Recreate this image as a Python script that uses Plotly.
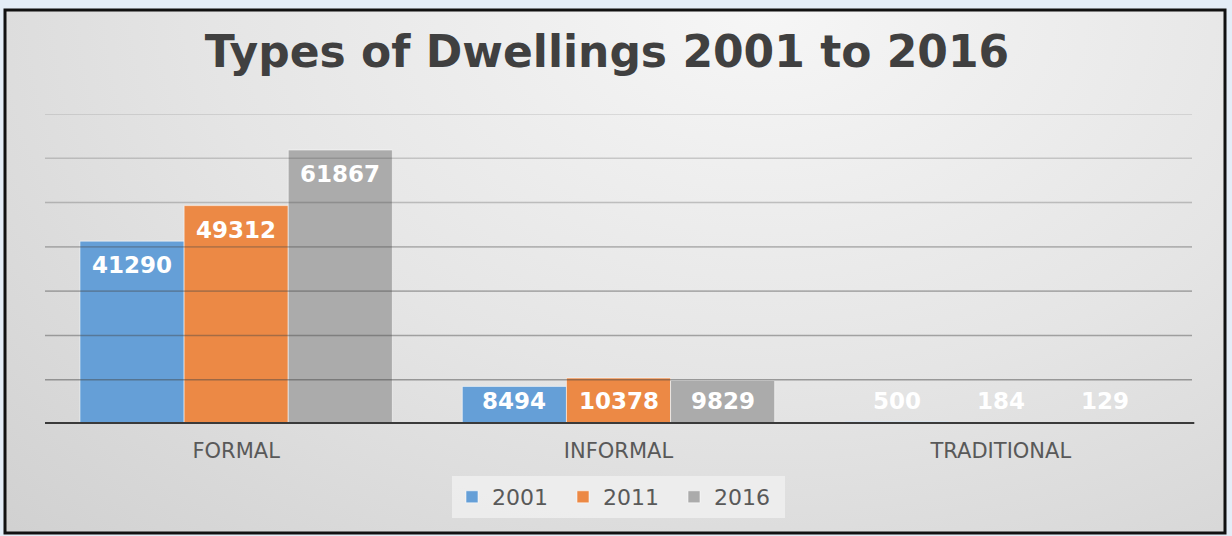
import base64
import plotly.graph_objects as go

# Dwelling counts by type and census year
categories = ["FORMAL", "INFORMAL", "TRADITIONAL"]
years = ["2001", "2011", "2016"]
counts_2001 = [41290, 8494, 500]
counts_2011 = [49312, 10378, 184]
counts_2016 = [61867, 9829, 129]
series = [counts_2001, counts_2011, counts_2016]
colors = ["#659fd7", "#ec8945", "#ababab"]

y_max = 70000
y_step = 10000
bargap = 0.183

W, H = 1232, 536
M_L, M_R, M_T, M_B = 45, 40, 114, 112
plot_w = W - M_L - M_R
plot_h = H - M_T - M_B

fig = go.Figure()
for name, vals, col in zip(years, series, colors):
    fig.add_trace(go.Bar(
        x=categories, y=vals, name=name,
        marker=dict(color=col, line=dict(color="rgba(255,255,255,0.55)", width=1)),
        hoverinfo="x+y+name",
    ))

# white value labels sitting just inside the top of each bar
px_per_unit = plot_h / y_max
bar_w = (1 - bargap) / len(series)
annotations = []
for j, vals in enumerate(series):
    for i, v in enumerate(vals):
        h = v * px_per_unit
        if h - 24 >= 23:
            y, shift = v, -24
        else:
            y, shift = 0, 23
        annotations.append(dict(
            x=i + (j - 1) * bar_w, y=y, xref="x", yref="y",
            text=f"{v}", showarrow=False, yshift=shift,
            xanchor="center", yanchor="middle",
            font=dict(family="DejaVu Sans", size=23, color="white", weight="bold"),
        ))

# gridlines drawn over the bars, fading toward the top
shapes = []
n_lines = y_max // y_step
for k in range(1, n_lines + 1):
    alpha = 0.48 - 0.05 * (k - 1)
    shapes.append(dict(
        type="line", xref="x domain", yref="y", x0=0, x1=1,
        y0=k * y_step, y1=k * y_step, layer="above",
        line=dict(color=f"rgba(70,70,70,{alpha:.2f})", width=1.6),
    ))

# category baseline
shapes.append(dict(type="line", xref="x domain", yref="y", x0=0, x1=1.002,
                   y0=0, y1=0, layer="above",
                   line=dict(color="#3a3a3a", width=4)))

# chart frame
fx0 = (5 - M_L) / plot_w
fx1 = (1225 - M_L) / plot_w
fy1 = (H - M_B - 10) / plot_h
fy0 = (H - M_B - 533) / plot_h
shapes.append(dict(type="rect", xref="paper", yref="paper",
                   x0=fx0, x1=fx1, y0=fy0, y1=fy1, layer="above",
                   line=dict(color="#111111", width=3), fillcolor="rgba(0,0,0,0)"))

# soft grey gradient fill behind the chart
svg = (
    '<svg xmlns="http://www.w3.org/2000/svg" width="1220" height="523" '
    'preserveAspectRatio="none" viewBox="0 0 1220 523">'
    '<defs><radialGradient id="g" cx="0.62" cy="0.0" r="1.0" '
    'gradientTransform="translate(0.62,0) scale(1,1.6) translate(-0.62,0)">'
    '<stop offset="0" stop-color="#f6f6f6"/>'
    '<stop offset="0.45" stop-color="#e5e5e5"/>'
    '<stop offset="1" stop-color="#cbcbcb"/>'
    '</radialGradient></defs>'
    '<rect width="1220" height="523" fill="url(#g)"/></svg>'
)
src = "data:image/svg+xml;base64," + base64.b64encode(svg.encode()).decode()
images = [dict(source=src, xref="paper", yref="paper", x=fx0, y=fy1,
               sizex=fx1 - fx0, sizey=fy1 - fy0, sizing="stretch",
               xanchor="left", yanchor="top", layer="below")]

fig.update_layout(
    width=W, height=H, autosize=False,
    margin=dict(l=M_L, r=M_R, t=M_T, b=M_B),
    paper_bgcolor="#e4edf7",
    plot_bgcolor="rgba(0,0,0,0)",
    barmode="group", bargap=bargap, bargroupgap=0,
    title=dict(text="Types of Dwellings 2001 to 2016", x=607 / W, xref="container",
               xanchor="center", y=1 - 52 / H, yref="container", yanchor="middle",
               font=dict(family="DejaVu Sans", size=44, color="#404040", weight="bold")),
    xaxis=dict(showgrid=False, showline=False,
               ticks="", ticklabelstandoff=12,
               tickfont=dict(family="DejaVu Sans", size=21, color="#595959")),
    yaxis=dict(range=[0, y_max], showgrid=False, zeroline=False,
               showticklabels=False, dtick=y_step),
    legend=dict(orientation="h", x=0.5, xanchor="center",
                y=(H - M_B - 497) / plot_h, yanchor="middle",
                bgcolor="rgba(242,242,242,0.75)", borderwidth=0,
                entrywidth=66, entrywidthmode="pixels",
                font=dict(family="DejaVu Sans", size=22, color="#595959")),
    annotations=annotations,
    shapes=shapes,
    images=images,
    showlegend=True,
)

fig.write_html("out.html")
